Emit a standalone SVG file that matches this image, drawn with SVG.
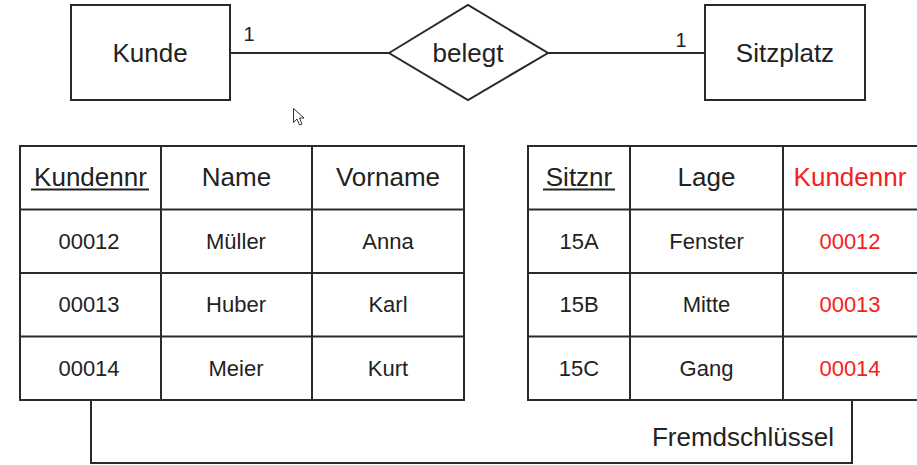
<svg xmlns="http://www.w3.org/2000/svg" width="917" height="465" viewBox="0 0 917 465">
<style>
.box{fill:#fff;stroke:#2a2a2a;stroke-width:2}
.ln{fill:none;stroke:#2a2a2a;stroke-width:2}
text{font-family:"Liberation Sans",Arial,sans-serif;fill:#222;text-anchor:middle}
.big{font-size:26px}
.dat{font-size:22px}
.card{font-size:20px}
.red{fill:#f52020}
</style>
<rect width="917" height="465" fill="#fff"/>
<g id="connectors">
<line class="ln" x1="230" y1="53" x2="389" y2="53"/>
<line class="ln" x1="548" y1="53" x2="705" y2="53"/>
<text class="card" x="249" y="41">1</text>
<text class="card" x="681" y="47">1</text>
<polyline class="ln" points="91,400 91,463 852,463 852,400"/>
<text class="big" x="834" y="446" style="text-anchor:end">Fremdschlüssel</text>
</g>
<g id="kunde">
<rect class="box" x="71" y="5" width="159" height="95"/>
<text class="big" x="150" y="62">Kunde</text>
</g>
<g id="belegt">
<polygon class="box" points="389,53 468,5 548,53 468,100"/>
<text class="big" x="468" y="62">belegt</text>
</g>
<g id="sitzplatz">
<rect class="box" x="705" y="5" width="160" height="95"/>
<text class="big" x="785" y="62">Sitzplatz</text>
</g>
<g id="table-kunde">
<rect class="box" x="20" y="146" width="444" height="254"/>
<path class="ln" d="M20,209.5H464M20,273H464M20,336.5H464M161,146V400M312,146V400"/>
<text class="big" x="90.5" y="186">Kundennr</text>
<line x1="31" y1="189.5" x2="149" y2="189.5" stroke="#222" stroke-width="2"/>
<text class="big" x="236.5" y="186">Name</text>
<text class="big" x="388" y="186">Vorname</text>
<text class="dat" x="89" y="249">00012</text>
<text class="dat" x="236" y="249">Müller</text>
<text class="dat" x="388" y="249">Anna</text>
<text class="dat" x="89" y="312">00013</text>
<text class="dat" x="236" y="312">Huber</text>
<text class="dat" x="388" y="312">Karl</text>
<text class="dat" x="89" y="376">00014</text>
<text class="dat" x="236" y="376">Meier</text>
<text class="dat" x="388" y="376">Kurt</text>
</g>
<g id="table-sitzplatz">
<rect class="box" x="528" y="146" width="395" height="254"/>
<path class="ln" d="M528,209.5H923M528,273H923M528,336.5H923M630,146V400M783,146V400"/>
<text class="big" x="579" y="186">Sitznr</text>
<line x1="543" y1="189.5" x2="615" y2="189.5" stroke="#222" stroke-width="2"/>
<text class="big" x="706.5" y="186">Lage</text>
<text class="big red" x="850" y="186">Kundennr</text>
<text class="dat" x="579" y="249">15A</text>
<text class="dat" x="706.5" y="249">Fenster</text>
<text class="dat red" x="850" y="249">00012</text>
<text class="dat" x="579" y="312">15B</text>
<text class="dat" x="706.5" y="312">Mitte</text>
<text class="dat red" x="850" y="312">00013</text>
<text class="dat" x="579" y="376">15C</text>
<text class="dat" x="706.5" y="376">Gang</text>
<text class="dat red" x="850" y="376">00014</text>
</g>
<g id="cursor">
<path d="M293.5,108.5V122.5L297,119L299.5,125L302,124L299.5,118H304Z" fill="#fff" stroke="#333" stroke-width="1" stroke-linejoin="round"/>
</g>
</svg>
